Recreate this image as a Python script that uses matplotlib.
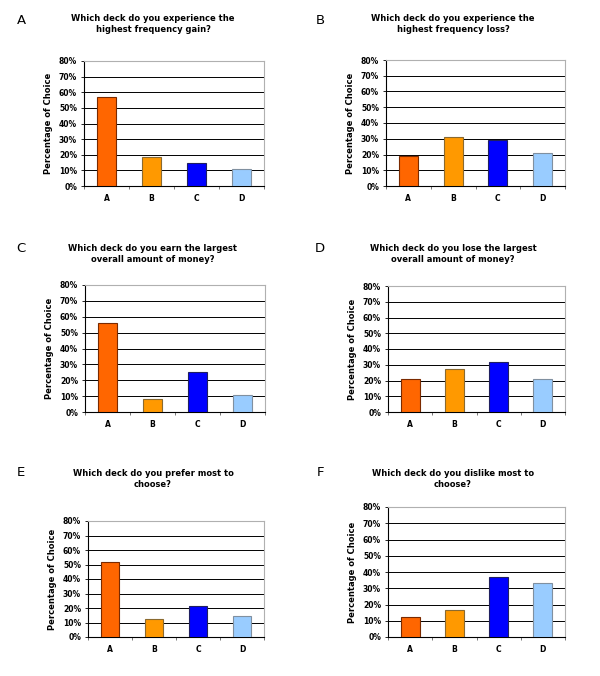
import numpy as np
import matplotlib.pyplot as plt

decks = ['A', 'B', 'C', 'D']
colors = ['#FF6600', '#FF9900', '#0000FF', '#99CCFF']
edges = ['#7a2a00', '#8a6a30', '#202060', '#8090a0']

gain_freq = [56.7, 18.8, 14.5, 10.7]
loss_freq = [19.2, 31.4, 29.4, 20.9]
earn_most = [55.9, 8.4, 24.9, 10.9]
lose_most = [20.8, 27.4, 32.0, 20.8]
prefer = [51.6, 12.4, 21.1, 14.7]
dislike = [12.4, 16.5, 37.1, 33.1]

panels = ['A', 'B', 'C', 'D', 'E', 'F']
titles = ['Which deck do you experience the\nhighest frequency gain?',
          'Which deck do you experience the\nhighest frequency loss?',
          'Which deck do you earn the largest\noverall amount of money?',
          'Which deck do you lose the largest\noverall amount of money?',
          'Which deck do you prefer most to\nchoose?',
          'Which deck do you dislike most to\nchoose?']
values = [gain_freq, loss_freq, earn_most, lose_most, prefer, dislike]

W, H = 600, 676
# axes boxes in pixels: left, top, right, bottom
boxes = [(84, 61, 264, 186), (386, 60, 565, 186),
         (85, 285, 265, 412), (388, 286, 565, 412),
         (88, 521, 264, 637), (388, 507, 565, 637)]
# title centre x, centre y of the two lines; panel letter position
title_pos = [(153, 24), (453, 24), (153, 254), (453, 254), (153, 479), (453, 479)]
letter_pos = [(21, 21), (320, 21), (21, 248), (320, 248), (21, 472), (320, 472)]

fig = plt.figure(figsize=(W / 100, H / 100), dpi=100)
fig.patch.set_facecolor('white')

for i in range(6):
    l, t, r, b = boxes[i]
    ax = fig.add_axes([l / W, 1 - b / H, (r - l) / W, (b - t) / H])
    x = np.arange(4)
    ax.bar(x, values[i], width=0.43, color=colors, edgecolor=edges, linewidth=0.8, zorder=3)
    ax.set_xlim(-0.5, 3.5)
    ax.set_ylim(0, 80)
    ax.set_yticks(np.arange(0, 81, 10))
    ax.set_yticklabels([f'{v}%' for v in range(0, 81, 10)], fontsize=5.5, fontweight='bold')
    ax.set_xticks(x)
    ax.set_xticklabels(decks, fontsize=5.5, fontweight='bold')
    ax.set_xticks(np.arange(-0.5, 4, 1), minor=True)
    ax.tick_params(axis='x', which='major', length=0, pad=6)
    ax.tick_params(axis='x', which='minor', length=2, width=0.6, color='#606060')
    ax.tick_params(axis='y', length=2, width=0.6, pad=3)
    ax.yaxis.grid(True, color='black', linewidth=0.7, zorder=0)
    ax.set_axisbelow(True)
    ax.spines['top'].set_color('#b0b0b0')
    ax.spines['right'].set_color('#b0b0b0')
    ax.spines['left'].set_linewidth(0.8)
    ax.spines['bottom'].set_linewidth(0.8)
    ax.set_ylabel('Percentage of Choice', fontsize=6, fontweight='bold', labelpad=4)
    tx, ty = title_pos[i]
    fig.text(tx / W, 1 - ty / H, titles[i], ha='center', va='center', fontsize=6,
             fontweight='bold', linespacing=1.35)
    lx, ly = letter_pos[i]
    fig.text(lx / W, 1 - ly / H, panels[i], ha='center', va='center', fontsize=9.5)

fig.savefig('out.png', dpi=100, facecolor='white')
